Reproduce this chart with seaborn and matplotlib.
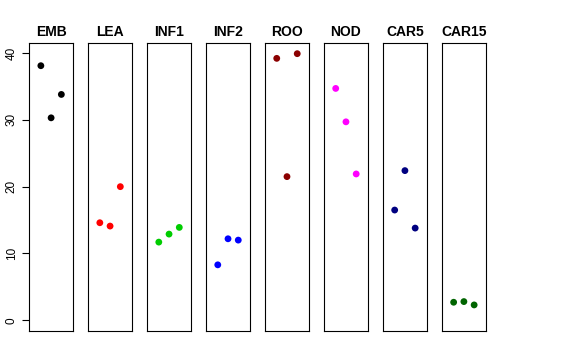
import numpy as np
import pandas as pd
import matplotlib
matplotlib.use("Agg")
import matplotlib.pyplot as plt
import seaborn as sns

# panel names, colours and the three values in each panel
groups = ["EMB", "LEA", "INF1", "INF2", "ROO", "NOD", "CAR5", "CAR15"]
colors = ["#000000", "#FF0000", "#00CD00", "#0000FF",
          "#8B0000", "#FF00FF", "#000080", "#006400"]
emb = [38.1, 30.3, 33.8]
lea = [14.6, 14.1, 20.0]
inf1 = [11.7, 12.9, 13.9]
inf2 = [8.3, 12.2, 12.0]
roo = [39.2, 21.5, 39.9]
nod = [34.7, 29.7, 21.9]
car5 = [16.5, 22.4, 13.8]
car15 = [2.7, 2.8, 2.3]
y_ticks = [0, 10, 20, 30, 40]

values = [emb, lea, inf1, inf2, roo, nod, car5, car15]
df = pd.DataFrame({
    "group": np.repeat(groups, 3),
    "rep": [1, 2, 3] * len(groups),
    "value": np.concatenate(values),
})

sns.set_style("white")
plt.rcParams["font.family"] = ["Liberation Sans", "DejaVu Sans"]

fig, axes = plt.subplots(1, 8, figsize=(5.76, 3.6), dpi=100, sharey=True)
fig.subplots_adjust(left=0.0503, right=0.8438, top=0.8806, bottom=0.0806,
                    wspace=0.332)

for ax, g, c in zip(axes, groups, colors):
    sub = df[df["group"] == g]
    sns.scatterplot(data=sub, x="rep", y="value", color=c, s=24,
                    edgecolor="none", ax=ax, legend=False)
    ax.set_xlim(-0.16, 4.16)
    ax.set_ylim(-1.6, 41.5)
    ax.set_xticks([])
    ax.set_xlabel("")
    ax.set_ylabel("")
    ax.set_title(g, fontsize=10, fontweight="bold", pad=5, color="black")
    for sp in ax.spines.values():
        sp.set_visible(True)
        sp.set_color("black")
        sp.set_linewidth(0.8)

axes[0].set_yticks(y_ticks)
axes[0].set_yticklabels([str(t) for t in y_ticks], rotation=90,
                        va="center", fontsize=8.5, color="black")
axes[0].tick_params(axis="y", left=True, length=5, width=0.8, pad=3,
                    color="black")
for ax in axes[1:]:
    ax.tick_params(axis="y", left=False, labelleft=False)

fig.savefig("out.png", dpi=100)
